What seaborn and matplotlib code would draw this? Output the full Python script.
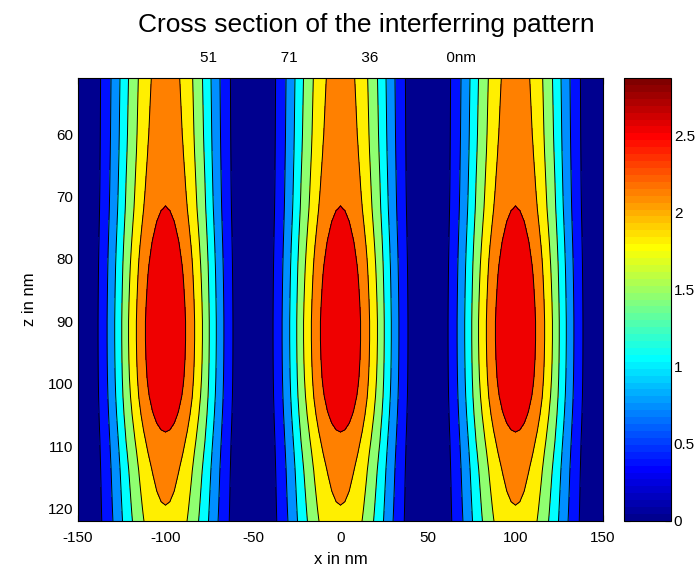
import matplotlib
matplotlib.use("Agg")
import matplotlib.pyplot as plt
import numpy as np
import seaborn as sns
from matplotlib.colors import ListedColormap, Normalize
from matplotlib.cm import ScalarMappable

# depth positions (nm) and intensity on the axis of each fringe at that depth
z_nm = [51, 54, 57, 60, 63, 66, 69, 72, 75, 78, 81, 84, 87,
        90, 93, 96, 99, 102, 105, 108, 111, 114, 117, 120, 122]
peak_intensity = [2.30, 2.32, 2.34, 2.36, 2.39, 2.43, 2.47, 2.52, 2.60, 2.68, 2.75, 2.80, 2.84,
                  2.87, 2.87, 2.85, 2.81, 2.74, 2.63, 2.50, 2.38, 2.28, 2.21, 2.14, 2.09]

# relative intensity across a fringe, from its centre (0) to the dark gap (50 nm)
x_offset_nm = [0, 2.5, 5, 7.5, 10, 12.5, 15, 17.5, 20, 22.5, 25,
               27.5, 30, 32.5, 35, 37.5, 40, 42.5, 45, 47.5, 50]
rel_profile = [1.000, 0.994, 0.976, 0.946, 0.905, 0.854, 0.794, 0.727, 0.655, 0.587, 0.500,
               0.422, 0.345, 0.273, 0.206, 0.146, 0.095, 0.055, 0.024, 0.006, 0.000]

# fringe centres
peak_x = [-100, 0, 100]

title = "Cross section of the interferring pattern"
subtitle_parts = ["51", "71", "36", "0nm"]
x_ticks = [-150, -100, -50, 0, 50, 100, 150]
z_ticks = [60, 70, 80, 90, 100, 110, 120]
cbar_ticks = [0, 0.5, 1, 1.5, 2, 2.5]


def matlab_jet(m=64):
    # same construction as MATLAB's jet(m)
    n = int(np.ceil(m / 4))
    u = np.concatenate([np.arange(1, n + 1) / n, np.ones(n - 1), np.arange(n, 0, -1) / n])
    g = int(np.ceil(n / 2)) - int(m % 4 == 1) + np.arange(1, len(u) + 1)
    cols = np.zeros((m, 3))
    for ch, idx in enumerate([g + n, g, g - n]):
        ok = (idx >= 1) & (idx <= m)
        cols[idx[ok] - 1, ch] = u[ok]
    return cols


sns.set_style("ticks")
plt.rcParams["font.family"] = ["Liberation Sans", "DejaVu Sans"]
plt.rcParams["axes.unicode_minus"] = False
plt.rcParams["text.color"] = "black"
plt.rcParams["axes.labelcolor"] = "black"

# build the field: mirror the half profile, repeat it for each fringe
offs = np.array(x_offset_nm)
half = np.array(rel_profile)
period_x = np.concatenate([-offs[:0:-1], offs])
period_v = np.concatenate([half[:0:-1], half])
xs, vs = [], []
for i, c in enumerate(peak_x):
    start = 0 if i == 0 else 1
    xs.append(c + period_x[start:])
    vs.append(period_v[start:])
x = np.concatenate(xs)
z = np.array(z_nm)
field = np.outer(np.array(peak_intensity), np.concatenate(vs))

jet64 = matlab_jet(64)
vmax = field.max()
levels = np.linspace(0, vmax, 9)
# MATLAB colours each band with the colour of its lower level
band_colors = [jet64[int(lv / vmax * 64)] for lv in levels[:-1]]

fig = plt.figure(figsize=(7, 5.7), dpi=100)
ax = fig.add_axes([78 / 700, 1 - 521 / 570, 525 / 700, 443 / 570])
cax = fig.add_axes([624 / 700, 1 - 521 / 570, 47 / 700, 443 / 570])

ax.contourf(x, z, field, levels=levels, colors=band_colors)
ax.contour(x, z, field, levels=levels[1:-1], colors="k", linewidths=0.7)

ax.set_xlim(-150, 150)
ax.set_ylim(z.max(), z.min())
ax.set_xticks(x_ticks)
ax.set_yticks(z_ticks)
ax.tick_params(direction="in", length=4, width=0.8, labelsize=11,
               top=True, right=True, colors="black")
ax.tick_params(axis="x", pad=7)
for sp in ax.spines.values():
    sp.set_visible(True)
    sp.set_linewidth(0.8)
    sp.set_color("black")
ax.set_xlabel("x in nm", fontsize=12, labelpad=5)
ax.set_ylabel("z in nm", fontsize=12, labelpad=8)

sm = ScalarMappable(norm=Normalize(0, vmax), cmap=ListedColormap(jet64))
cb = fig.colorbar(sm, cax=cax, ticks=cbar_ticks)
cb.outline.set_linewidth(0.8)
cb.outline.set_edgecolor("black")
cax.tick_params(direction="in", length=4, width=0.8, labelsize=11, pad=2,
                left=True, right=True, colors="black")
cax.set_yticklabels([f"{t:g}" for t in cbar_ticks])

fig.text(366 / 700, 1 - 25 / 570, title, ha="center", va="center", fontsize=19)
sub = ("               ".join(subtitle_parts[:3]) + "                " + subtitle_parts[3])
fig.text(338.5 / 700, 1 - 58 / 570, sub, ha="center", va="center", fontsize=11)

fig.savefig("out.png", dpi=100)
